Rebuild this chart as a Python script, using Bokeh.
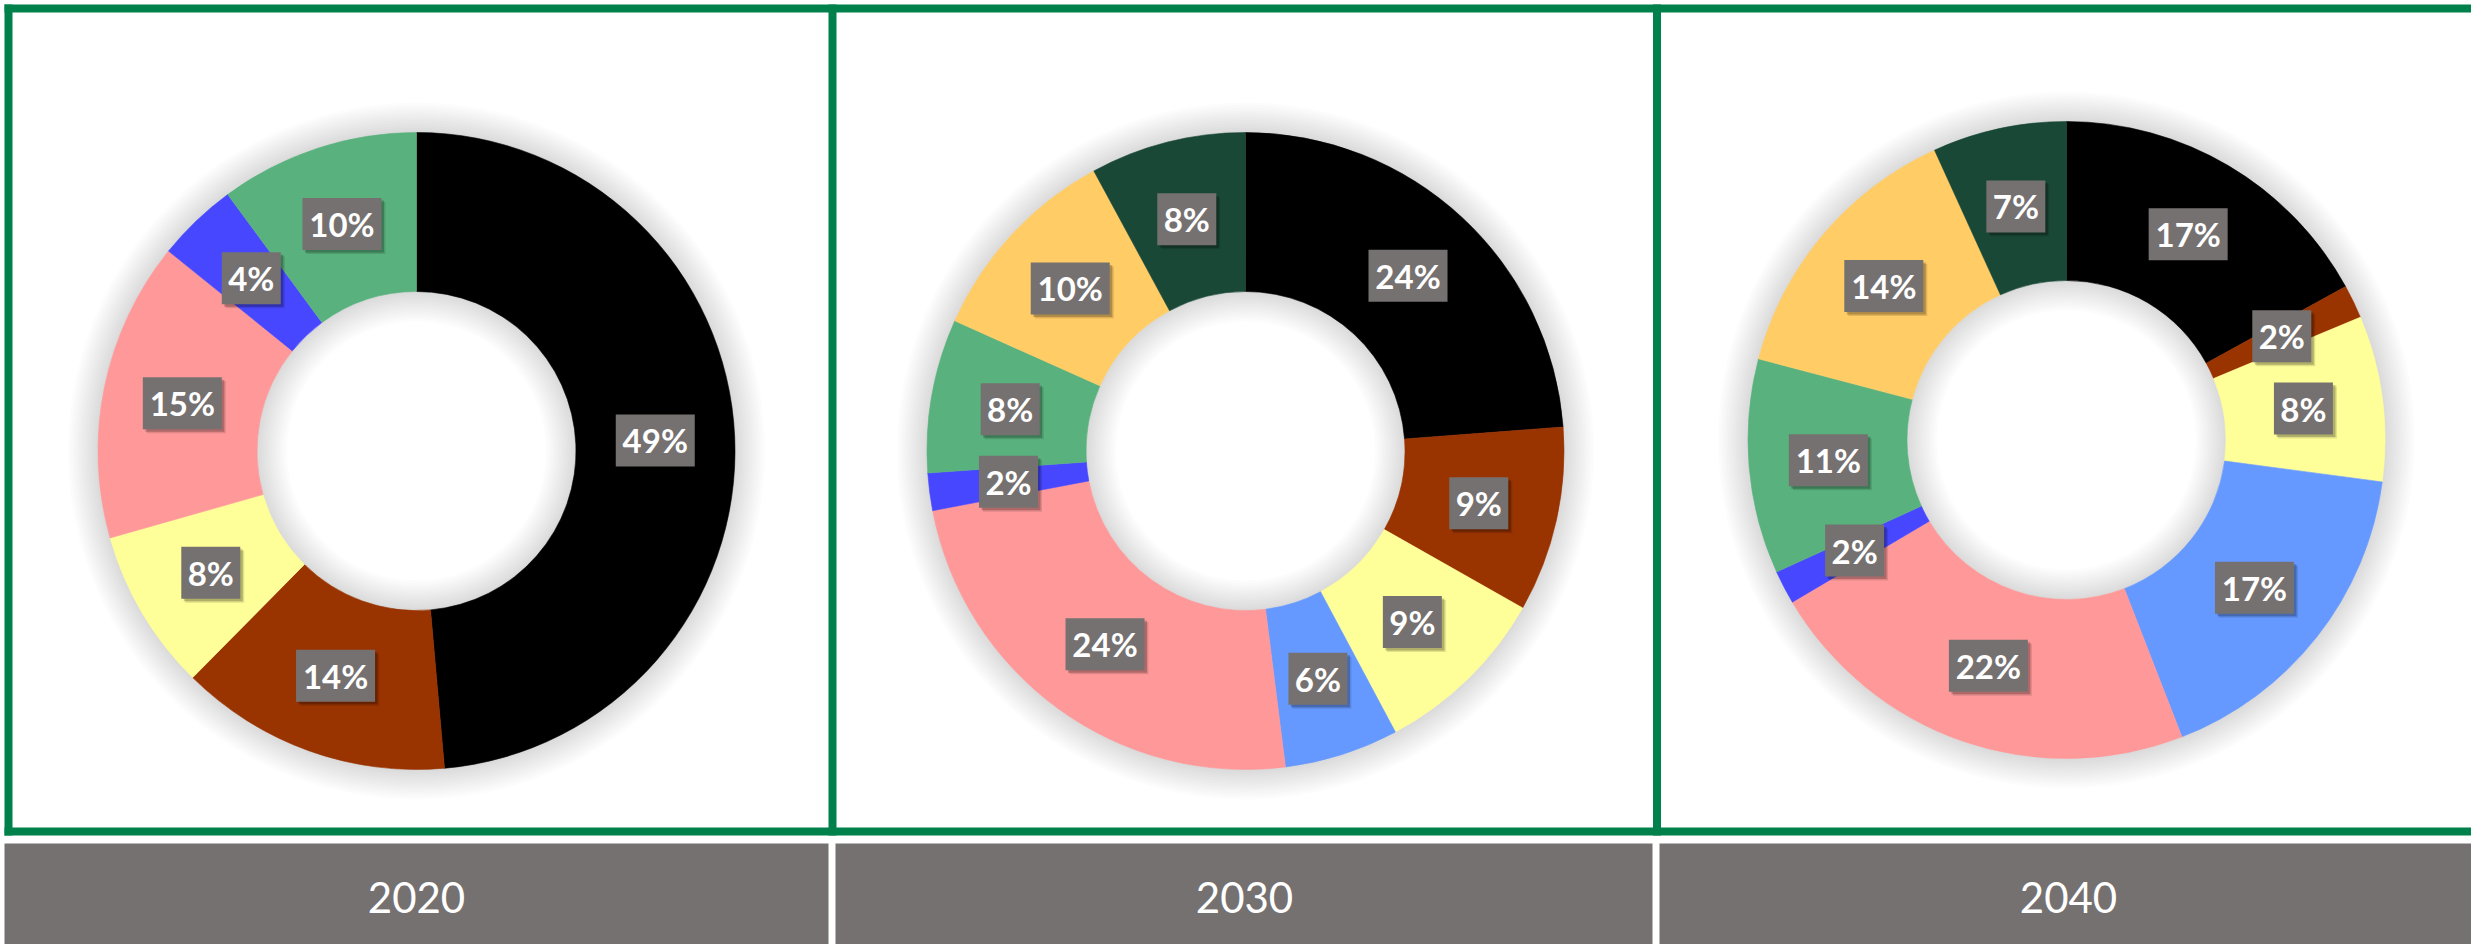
import math
from bokeh.plotting import figure
from bokeh.models import Range1d, ColumnDataSource
from bokeh.embed import file_html
from bokeh.resources import INLINE
from bokeh.core.properties import value

# ---------------- data ----------------
years = ["2020", "2030", "2040"]
categories = ["Seg 1", "Seg 2", "Seg 3", "Seg 4", "Seg 5", "Seg 6", "Seg 7", "Seg 8", "Seg 9"]
share_2020 = [48.6, 13.8, 8.2, 0.0, 15.2, 4.1, 10.1, 0.0, 0.0]
share_2030 = [23.8, 9.4, 9.0, 5.8, 24.0, 1.9, 7.8, 10.4, 7.9]
share_2040 = [17.0, 1.7, 8.4, 17.0, 22.4, 1.7, 10.9, 14.1, 6.8]

# ---------------- style ----------------
colors = ["#000000", "#993300", "#FFFF99", "#6699FF", "#FF9999",
          "#4747FF", "#59B27E", "#FFCC66", "#1A4837"]
GREEN = "#00804A"
GRAY = "#767171"

W, H = 2471, 944


def fx(xp):
    return xp


def fy(yp):
    return H - yp


p = figure(width=W, height=H, x_range=Range1d(0, W), y_range=Range1d(0, H),
           output_backend="svg", toolbar_location=None, min_border=0,
           x_axis_location=None, y_axis_location=None)
p.grid.visible = False
p.outline_line_color = None
p.background_fill_color = "white"
p.border_fill_color = "white"

# panel frame lines
p.segment(x0=[fx(4)], y0=[fy(8)], x1=[fx(2600)], y1=[fy(8)], line_color=GREEN, line_width=8)
p.segment(x0=[fx(4)], y0=[fy(831)], x1=[fx(2600)], y1=[fy(831)], line_color=GREEN, line_width=8)
for xv in [8, 832, 1656.5]:
    p.segment(x0=[fx(xv)], y0=[fy(4)], x1=[fx(xv)], y1=[fy(835)], line_color=GREEN, line_width=8)

# bottom year bars
bar_left = [4, 835, 1659]
bar_right = [828, 1652, 2490]
p.quad(left=[fx(v) for v in bar_left], right=[fx(v) for v in bar_right],
       top=[fy(843)] * 3, bottom=[fy(960)] * 3, fill_color=GRAY, line_color=None)
p.text(x=[fx(v) for v in [416, 1244, 2068]], y=[fy(897)] * 3, text=years,
       text_color="white", text_font=value("Lato"), text_font_size="42px",
       text_align="center", text_baseline="middle")

centers = [(416, 450.5), (1245, 450.5), (2066, 439.5)]
R_OUT, R_IN = 318.5, 159.5
all_shares = [share_2020, share_2030, share_2040]

for (cxp, cyp), shares in zip(centers, all_shares):
    cx, cy = fx(cxp), fy(cyp)
    # soft shadow around the ring
    n = 12
    for i in range(1, n + 1):
        p.annulus(x=[cx], y=[cy], inner_radius=R_OUT - 1, outer_radius=R_OUT + 2.5 * i,
                  fill_color="black", fill_alpha=0.012, line_color=None)
        p.annulus(x=[cx], y=[cy], inner_radius=max(R_IN - 2.5 * i, 0), outer_radius=R_IN + 1,
                  fill_color="black", fill_alpha=0.012, line_color=None)
    total = float(sum(shares))
    starts, ends, cols, lx, ly, labels = [], [], [], [], [], []
    cum = 0.0
    for s, c in zip(shares, colors):
        if s <= 0:
            continue
        a0 = cum / total * 2 * math.pi
        a1 = (cum + s) / total * 2 * math.pi
        starts.append(math.pi / 2 - a1)
        ends.append(math.pi / 2 - a0)
        cols.append(c)
        am = (a0 + a1) / 2
        rm = (R_OUT + R_IN) / 2
        lx.append(cx + rm * math.sin(am))
        ly.append(cy + rm * math.cos(am))
        labels.append(f"{int(round(s / total * 100))}%")
        cum += s
    src = ColumnDataSource(dict(x=[cx] * len(cols), y=[cy] * len(cols),
                                start=starts, end=ends, color=cols))
    p.annular_wedge(x="x", y="y", inner_radius=R_IN, outer_radius=R_OUT,
                    start_angle="start", end_angle="end", direction="anticlock",
                    fill_color="color", line_color="color", line_width=0.6, source=src)
    widths = [20 * len(t) + 19 for t in labels]
    # label box shadows
    p.rect(x=[v + 4 for v in lx], y=[v - 4 for v in ly], width=widths, height=[52] * len(lx),
           fill_color="black", fill_alpha=0.12, line_color=None)
    p.rect(x=[v + 2.5 for v in lx], y=[v - 2.5 for v in ly], width=widths, height=[52] * len(lx),
           fill_color="black", fill_alpha=0.22, line_color=None)
    p.rect(x=lx, y=ly, width=widths, height=[52] * len(lx), fill_color=GRAY, line_color=None)
    p.text(x=lx, y=ly, text=labels, text_color="white", text_font=value("Lato"),
           text_font_style="bold", text_font_size="33px", text_align="center",
           text_baseline="middle")

open("out.html", "w").write(file_html(p, INLINE))
